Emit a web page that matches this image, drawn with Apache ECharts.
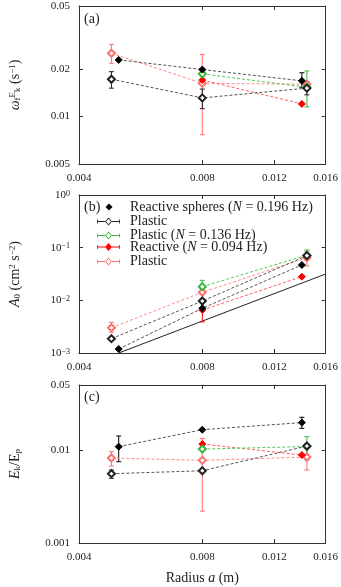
<!DOCTYPE html>
<html>
<head>
<meta charset="utf-8">
<script src="https://cdn.jsdelivr.net/npm/echarts@6/dist/echarts.min.js"></script>
<style>
  html, body { margin: 0; padding: 0; background: #fff; }
  #main { width: 341px; height: 587px; }
</style>
</head>
<body>
<div id="main"></div>
<script>
// sphere radius (m)
var radiusReact = [0.0050, 0.0080, 0.0140];
var radiusPlast = [0.0048, 0.0080, 0.0144];
var radiusReact2 = [0.0080, 0.0140];
var radiusPlast2 = [0.0080, 0.0144];

// (a) omega_f
var omegaReact196 = [0.0228, 0.0198, 0.0168];
var omegaReact196Lo = [null, null, 0.0153];
var omegaReact196Hi = [null, null, 0.0189];
var omegaPlast196 = [0.0172, 0.0131, 0.0151];
var omegaPlast196Lo = [0.0151, 0.0112, 0.0137];
var omegaPlast196Hi = [0.0192, 0.0149, 0.0166];
var omegaPlast136 = [0.0186, 0.0153];
var omegaPlast136Lo = [null, 0.0115];
var omegaPlast136Hi = [null, 0.0194];
var omegaReact094 = [0.0170, 0.0120];
var omegaPlast094 = [0.0251, 0.0162, 0.0160];
var omegaPlast094Lo = [0.0217, 0.00766, null];
var omegaPlast094Hi = [0.0286, 0.0247, null];

// (b) A0
var ampReact196 = [0.00119, 0.00706, 0.0469];
var ampPlast196 = [0.00187, 0.0097, 0.0705];
var ampPlast136 = [0.0182, 0.072];
var ampPlast136Lo = [0.0160, 0.0583];
var ampPlast136Hi = [0.0240, 0.0904];
var ampReact094 = [0.00655, 0.0281];
var ampReact094Lo = [0.0039, null];
var ampReact094Hi = [0.0105, null];
var ampPlast094 = [0.00302, 0.0142, 0.0645];
var ampPlast094Lo = [0.00247, null, 0.0449];
var ampPlast094Hi = [0.00383, null, 0.0850];
var fitRadius = [0.0050, 0.0160];
var fitAmp = [0.0010, 0.0316];

// (c) Ek/Ep
var ratioReact196 = [0.01087, 0.01653, 0.0197];
var ratioReact196Lo = [0.00748, null, 0.0171];
var ratioReact196Hi = [0.01415, null, 0.0225];
var ratioPlast196 = [0.00556, 0.00598, 0.01104];
var ratioPlast196Lo = [0.00496, null, null];
var ratioPlast196Hi = [0.0061, null, null];
var ratioPlast136 = [0.01024, 0.0109];
var ratioPlast136Lo = [null, 0.0078];
var ratioPlast136Hi = [null, 0.0139];
var ratioReact094 = [0.0116, 0.00883];
var ratioPlast094 = [0.0082, 0.00774, 0.0084];
var ratioPlast094Lo = [0.00673, 0.0022, 0.0061];
var ratioPlast094Hi = [0.00958, 0.0133, 0.0106];

// ticks
var xTicks = [0.004, 0.008, 0.012, 0.016];
var xLabels = ['0.004', '0.008', '0.012', '0.016'];
var yTicksA = [0.005, 0.01, 0.02, 0.05];
var yLabelsA = ['0.005', '0.01', '0.02', '0.05'];
var yTicksB = [0.001, 0.01, 0.1, 1];
var yLabelsB = ['10{sp|−3}', '10{sp|−2}', '10{sp|−1}', '10{sp|0}'];
var yTicksC = [0.001, 0.01, 0.05];
var yLabelsC = ['0.001', '0.01', '0.05'];

var FONT = '"Liberation Serif", "DejaVu Serif", serif';
var lg = Math.log10;

var look = {
  react196: { color: '#000000', line: '#555555', symbol: 'diamond' },
  plast196: { color: '#222222', line: '#555555', symbol: 'emptyDiamond' },
  plast136: { color: '#3cb43c', line: '#55c855', symbol: 'emptyDiamond' },
  react094: { color: '#ff0000', line: '#ff6060', symbol: 'diamond' },
  plast094: { color: '#ff7070', line: '#ff8c8c', symbol: 'emptyDiamond' }
};

var legendText = {
  react196: 'Reactive spheres ({i|N} = 0.196 Hz)',
  plast196: 'Plastic',
  plast136: 'Plastic ({i|N} = 0.136 Hz)',
  react094: 'Reactive ({i|N} = 0.094 Hz)',
  plast094: 'Plastic'
};

var series = [];

function addSet(panel, key, xs, ys, lo, hi) {
  var st = look[key];
  if (lo) {
    var bars = [];
    xs.forEach(function (x, i) {
      if (lo[i] != null) bars.push([lg(x), lg(lo[i]), lg(hi[i])]);
    });
    series.push({
      type: 'custom', name: key + '_err', xAxisIndex: panel, yAxisIndex: panel,
      silent: true, z: 2, data: bars,
      encode: { x: 0, y: [1, 2] },
      renderItem: function (params, api) {
        var top = api.coord([api.value(0), api.value(2)]);
        var bot = api.coord([api.value(0), api.value(1)]);
        var s = { stroke: st.color, lineWidth: 1 };
        return {
          type: 'group',
          children: [
            { type: 'line', shape: { x1: top[0], y1: top[1], x2: bot[0], y2: bot[1] }, style: s },
            { type: 'line', shape: { x1: top[0] - 2.5, y1: top[1], x2: top[0] + 2.5, y2: top[1] }, style: s },
            { type: 'line', shape: { x1: bot[0] - 2.5, y1: bot[1], x2: bot[0] + 2.5, y2: bot[1] }, style: s }
          ]
        };
      }
    });
  }
  series.push({
    type: 'line', name: key, xAxisIndex: panel, yAxisIndex: panel,
    silent: true, z: 3,
    data: xs.map(function (x, i) { return [lg(x), lg(ys[i])]; }),
    symbol: st.symbol, symbolSize: 7, showAllSymbol: true,
    itemStyle: { color: st.color, borderColor: st.color, borderWidth: 1 },
    lineStyle: { color: st.line, width: 1, type: [3, 2] }
  });
}

addSet(0, 'plast094', radiusPlast, omegaPlast094, omegaPlast094Lo, omegaPlast094Hi);
addSet(0, 'react094', radiusReact2, omegaReact094);
addSet(0, 'plast136', radiusPlast2, omegaPlast136, omegaPlast136Lo, omegaPlast136Hi);
addSet(0, 'plast196', radiusPlast, omegaPlast196, omegaPlast196Lo, omegaPlast196Hi);
addSet(0, 'react196', radiusReact, omegaReact196, omegaReact196Lo, omegaReact196Hi);

addSet(1, 'plast094', radiusPlast, ampPlast094, ampPlast094Lo, ampPlast094Hi);
addSet(1, 'react094', radiusReact2, ampReact094, ampReact094Lo, ampReact094Hi);
addSet(1, 'plast136', radiusPlast2, ampPlast136, ampPlast136Lo, ampPlast136Hi);
addSet(1, 'plast196', radiusPlast, ampPlast196);
addSet(1, 'react196', radiusReact, ampReact196);
series.push({
  type: 'line', name: 'fit', xAxisIndex: 1, yAxisIndex: 1, silent: true, z: 1,
  data: fitRadius.map(function (x, i) { return [lg(x), lg(fitAmp[i])]; }),
  symbol: 'none', lineStyle: { color: '#222', width: 1 }
});

addSet(2, 'plast094', radiusPlast, ratioPlast094, ratioPlast094Lo, ratioPlast094Hi);
addSet(2, 'react094', radiusReact2, ratioReact094);
addSet(2, 'plast136', radiusPlast2, ratioPlast136, ratioPlast136Lo, ratioPlast136Hi);
addSet(2, 'plast196', radiusPlast, ratioPlast196, ratioPlast196Lo, ratioPlast196Hi);
addSet(2, 'react196', radiusReact, ratioReact196, ratioReact196Lo, ratioReact196Hi);

function labeler(ticks, labels) {
  return function (v) {
    var best = 0;
    for (var i = 1; i < ticks.length; i++) {
      if (Math.abs(lg(ticks[i]) - v) < Math.abs(lg(ticks[best]) - v)) best = i;
    }
    return labels[best];
  };
}

var richSmall = {
  i: { fontFamily: FONT, fontStyle: 'italic', fontSize: 14, color: '#222' },
  sp: { fontFamily: FONT, fontSize: 9, lineHeight: 10, verticalAlign: 'top', color: '#222' },
  sb: { fontFamily: FONT, fontSize: 9, lineHeight: 10, verticalAlign: 'bottom', color: '#222' }
};

function xAx(panel, top) {
  var t = xTicks.map(lg);
  var ax = {
    type: 'value', gridIndex: panel, position: top ? 'top' : 'bottom',
    min: lg(0.004), max: lg(0.016),
    splitLine: { show: false },
    axisLine: { show: true, onZero: false, lineStyle: { color: '#333', width: 1 } },
    axisTick: { show: true, inside: true, length: 4, customValues: t, lineStyle: { color: '#333' } },
    axisLabel: {
      show: !top, customValues: t, margin: 9,
      formatter: labeler(xTicks, xLabels),
      fontFamily: FONT, fontSize: 11, color: '#222'
    }
  };
  if (panel === 2 && !top) {
    ax.name = 'Radius {i|a} (m)';
    ax.nameLocation = 'middle';
    ax.nameGap = 28;
    ax.nameTextStyle = { fontFamily: FONT, fontSize: 14, color: '#222', rich: richSmall };
  }
  return ax;
}

function yAx(panel, right, ticks, labels, lo, hi, name) {
  var t = ticks.map(lg);
  var ax = {
    type: 'value', gridIndex: panel, position: right ? 'right' : 'left',
    min: lg(lo), max: lg(hi),
    splitLine: { show: false },
    axisLine: { show: true, onZero: false, lineStyle: { color: '#333', width: 1 } },
    axisTick: { show: true, inside: true, length: 4, customValues: t, lineStyle: { color: '#333' } },
    axisLabel: {
      show: !right, customValues: t, margin: 9,
      formatter: labeler(ticks, labels),
      fontFamily: FONT, fontSize: 11, color: '#222',
      rich: {
        sp: { fontFamily: FONT, fontSize: 8, lineHeight: 9, verticalAlign: 'top', color: '#222' }
      }
    }
  };
  if (!right) {
    ax.name = name;
    ax.nameLocation = 'middle';
    ax.nameRotate = 90;
    ax.nameGap = 57;
    ax.nameTextStyle = { fontFamily: FONT, fontSize: 14, color: '#222', rich: richSmall };
  }
  return ax;
}

var nameA = '{i|ω}{sb|f}{sp|E}{sb|k} (s{sp|−1})';
var nameB = '{i|A}{sb|0} (cm{sp|2} s{sp|−2})';
var nameC = '{i|E}{sb|k}/E{sb|p}';

var openIcon = 'path://M0,2H0.8V6H0Z M0.8,3.6H8V4.4H0.8Z M22.2,2H23V6H22.2Z M15,3.6H22.2V4.4H15Z ' +
  'M11.5,0L15,4L11.5,8L8,4Z M11.5,1.3L9.1,4L11.5,6.7L13.9,4Z';
var fillIcon = 'path://M0,2H0.8V6H0Z M0.8,3.6H8V4.4H0.8Z M22.2,2H23V6H22.2Z M15,3.6H22.2V4.4H15Z ' +
  'M11.5,0L15,4L11.5,8L8,4Z';

var legendKeys = ['react196', 'plast196', 'plast136', 'react094', 'plast094'];
var legendRowY = [208, 222.5, 236.5, 248, 262.5];

var legends = legendKeys.map(function (key, i) {
  var first = i === 0;
  return {
    left: first ? 105.5 : 97,
    top: legendRowY[i] - 8,
    padding: 0,
    selectedMode: false,
    itemWidth: first ? 7 : 23,
    itemHeight: first ? 7 : 8,
    data: [{
      name: key,
      icon: first ? 'diamond' : (look[key].symbol === 'diamond' ? fillIcon : openIcon),
      itemStyle: { color: look[key].color, borderWidth: 0 }
    }],
    formatter: function (n) { return legendText[n]; },
    textStyle: {
      fontFamily: FONT, fontSize: 14, color: '#222',
      padding: [0, 0, 0, first ? 12.5 : 5],
      rich: { i: { fontFamily: FONT, fontStyle: 'italic', fontSize: 14, color: '#222' } }
    }
  };
});

var chart = echarts.init(document.getElementById('main'));
chart.setOption({
  animation: false,
  backgroundColor: '#fff',
  grid: [
    { left: 79, right: 15, top: 6, height: 158 },
    { left: 79, right: 15, top: 195, height: 158 },
    { left: 79, right: 15, top: 385, height: 158 }
  ],
  xAxis: [xAx(0, false), xAx(1, false), xAx(2, false), xAx(0, true), xAx(1, true), xAx(2, true)],
  yAxis: [
    yAx(0, false, yTicksA, yLabelsA, 0.005, 0.05, nameA),
    yAx(1, false, yTicksB, yLabelsB, 0.001, 1, nameB),
    yAx(2, false, yTicksC, yLabelsC, 0.001, 0.05, nameC),
    yAx(0, true, yTicksA, yLabelsA, 0.005, 0.05),
    yAx(1, true, yTicksB, yLabelsB, 0.001, 1),
    yAx(2, true, yTicksC, yLabelsC, 0.001, 0.05)
  ],
  legend: legends,
  graphic: [
    { type: 'text', left: 84, top: 12, style: { text: '(a)', font: '14px ' + FONT, fill: '#222' } },
    { type: 'text', left: 84, top: 200, style: { text: '(b)', font: '14px ' + FONT, fill: '#222' } },
    { type: 'text', left: 84, top: 390, style: { text: '(c)', font: '14px ' + FONT, fill: '#222' } }
  ],
  series: series
});
</script>
</body>
</html>
